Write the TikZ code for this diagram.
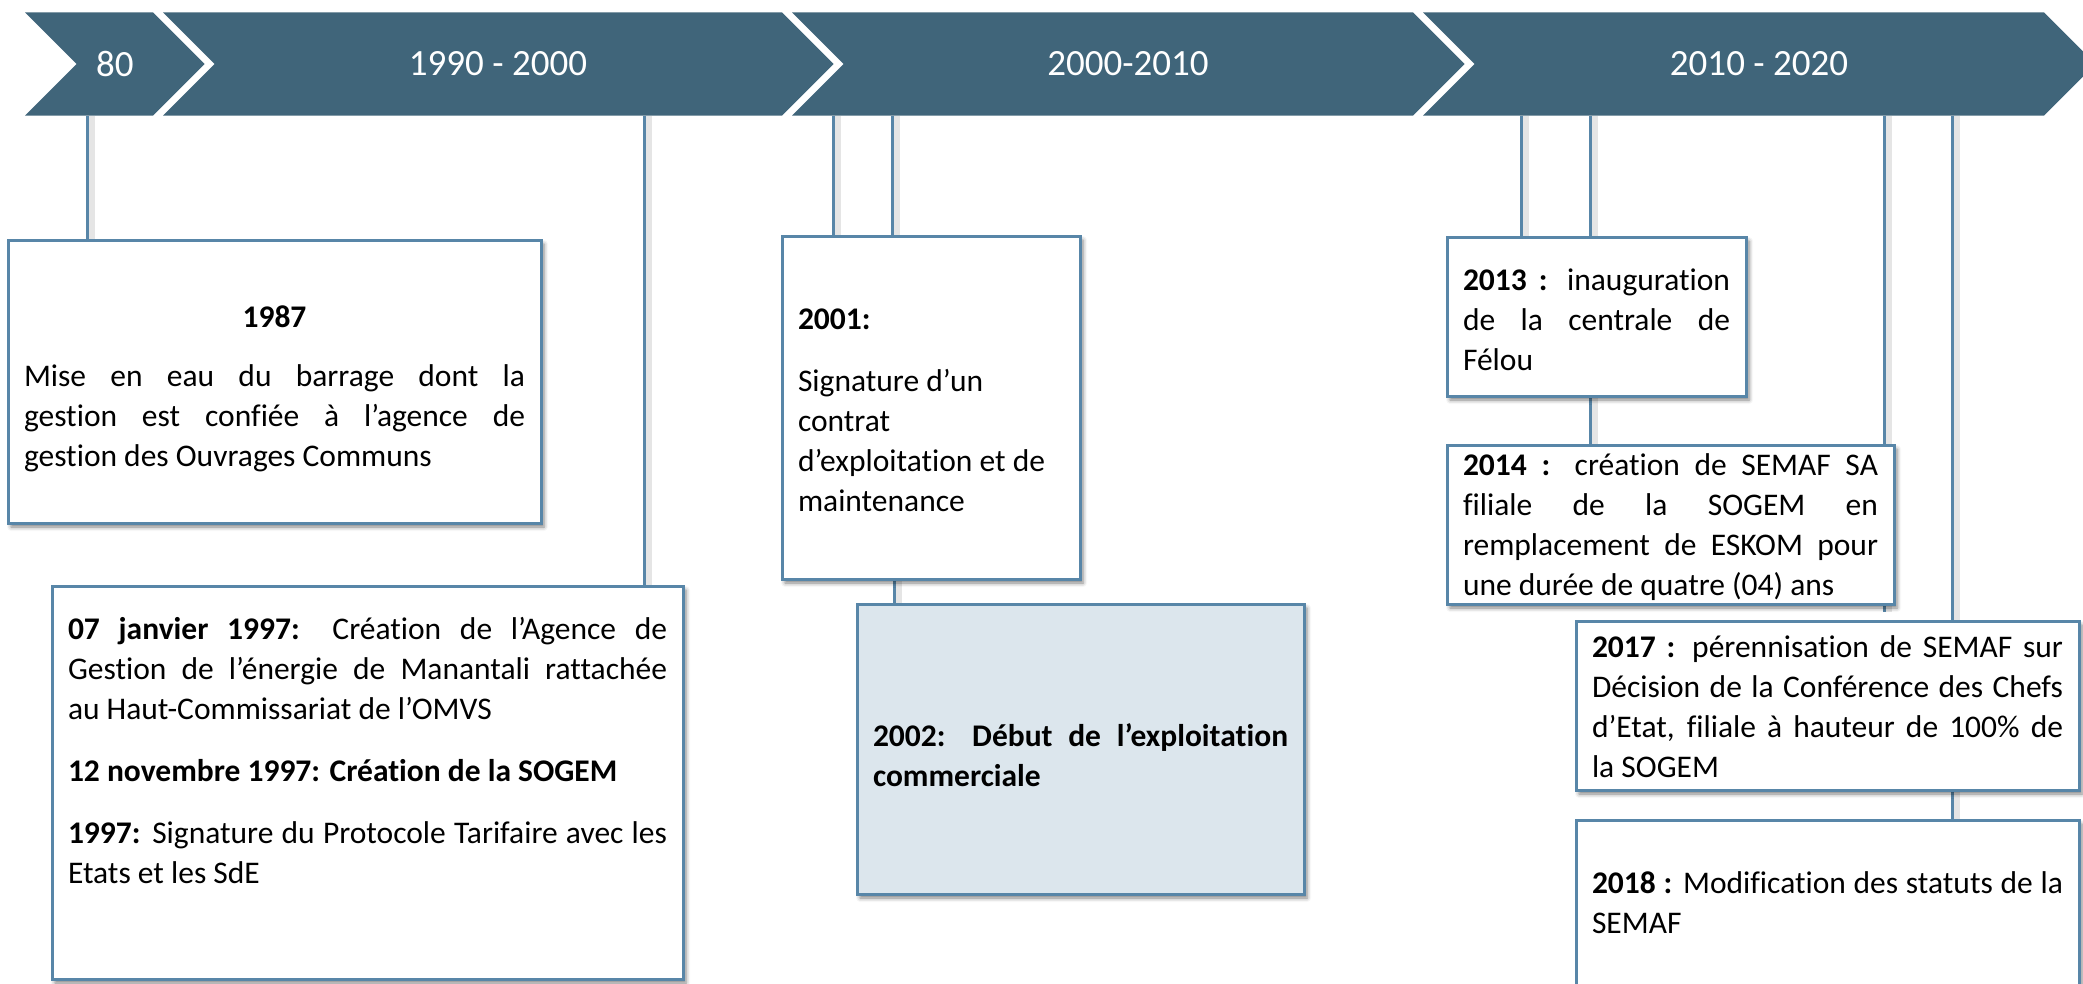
\documentclass[tikz,border=0pt]{standalone}
\usepackage{fontspec}
\setmainfont{Carlito}[Ligatures=NoCommon]
\usetikzlibrary{shadows.blur}
\definecolor{banner}{RGB}{64,101,122}
\definecolor{edgeblue}{RGB}{88,134,168}
\definecolor{paleblue}{RGB}{220,230,237}
\pgfdeclarelayer{bg}
\pgfsetlayers{bg,main}
\newcommand\evtext[4]{\parbox[t][#2][t]{#1}{\vspace*{#3}#4}}
\newcommand\pgap{\par\vspace{22pt}}
\tikzset{
  evbox/.style={draw=edgeblue, line width=3pt, fill=white, inner xsep=16pt, inner ysep=0pt,
    outer sep=0pt, anchor=north west,
    blur shadow={shadow xshift=3pt, shadow yshift=-4pt, shadow blur radius=4pt, shadow opacity=50},
    font=\fontsize{31.5}{40}\selectfont},
  conn/.style={draw=edgeblue, line width=3pt,
    preaction={draw=black, draw opacity=0.10, line width=6pt, transform canvas={xshift=4.5pt}}},
  chevlabel/.style={text=white, font=\fontsize{37}{44}\selectfont, minimum height=103.4pt,
    inner sep=0pt, outer sep=0pt},
  chevfill/.style={fill=banner}
}
\begin{document}
\begin{tikzpicture}[x=1pt,y=-1pt]
\useasboundingbox (0,0) rectangle (2083,983);
\clip (0,0) rectangle (2083,983);
% banner chevrons
\path[chevfill] (25,12.3) -- (153,12.3) -- (204.7,64) -- (153,115.7) -- (25,115.7) -- (76.7,64) -- cycle;
\path[chevfill] (163,12.3) -- (782,12.3) -- (833.7,64) -- (782,115.7) -- (163,115.7) -- (214.7,64) -- cycle;
\path[chevfill] (792,12.3) -- (1413,12.3) -- (1464.7,64) -- (1413,115.7) -- (792,115.7) -- (843.7,64) -- cycle;
\path[chevfill] (1423,12.3) -- (2044,12.3) -- (2095.7,64) -- (2044,115.7) -- (1423,115.7) -- (1474.7,64) -- cycle;
\node[chevlabel] (chev1) at (114.8,64) {80};
\node[chevlabel] (chev2) at (498,64) {1990 - 2000};
\node[chevlabel] (chev3) at (1128,64) {2000-2010};
\node[chevlabel] (chev4) at (1759,64) {2010 - 2020};

% event boxes
\node[evbox] (b1987) at (8,240) {\evtext{501pt}{283pt}{59pt}{%
  {\centering\bfseries\strut 1987\par}\vspace{19pt}%
  Mise en eau du barrage dont la\linebreak gestion est confiée à l’agence de\linebreak gestion des Ouvrages Communs}};

\node[evbox] (b1997) at (52,586) {\evtext{599pt}{393pt}{25pt}{%
  \strut\textbf{07 janvier 1997:} Création de l’Agence de\linebreak Gestion de l’énergie de Manantali rattachée\linebreak au Haut-Commissariat de l’OMVS\pgap
  \textbf{12 novembre 1997: Création de la SOGEM}\pgap
  \textbf{1997:} Signature du Protocole Tarifaire avec les\linebreak Etats et les SdE}};

\node[evbox] (b2001) at (782,236) {\evtext{266pt}{343pt}{65pt}{\raggedright
  \strut\textbf{2001:}\pgap
  Signature d’un\\ contrat\\ d’exploitation et de\\ maintenance}};

\node[evbox, fill=paleblue] (b2002) at (857,604) {\evtext{415pt}{290pt}{114pt}{%
  \bfseries\strut 2002: Début de l’exploitation\linebreak commerciale}};

\node[evbox] (b2013) at (1447,237) {\evtext{267pt}{159pt}{25pt}{%
  \strut\textbf{2013 :} inauguration\linebreak de la centrale de\linebreak Félou}};

\node[evbox] (b2014) at (1447,445) {\evtext{415pt}{159pt}{2pt}{%
  \strut\textbf{2014 :} création de SEMAF SA\linebreak filiale de la SOGEM en\linebreak remplacement de ESKOM pour\linebreak une durée de quatre (04) ans}};

\node[evbox] (b2017) at (1576,621) {\evtext{471pt}{169pt}{8pt}{%
  \strut\textbf{2017 :} pérennisation de SEMAF sur\linebreak Décision de la Conférence des Chefs\linebreak d’Etat, filiale à hauteur de 100\% de\linebreak la SOGEM}};

\node[evbox] (b2018) at (1576,820) {\evtext{471pt}{200pt}{45pt}{%
  \strut\textbf{2018 :} Modification des statuts de la\linebreak SEMAF}};

% connectors
\coordinate (k87) at (87,0);
\coordinate (k644) at (644,0);
\coordinate (k833) at (833,0);
\coordinate (k892) at (892,0);
\coordinate (k894) at (894,0);
\coordinate (k1521) at (1521,0);
\coordinate (k1590) at (1590,0);
\coordinate (k1884) at (1884,0);
\coordinate (k1884end) at (1884,612);
\coordinate (k1952) at (1952,0);
\begin{pgfonlayer}{bg}
\draw[conn] (chev1.south -| k87) -- (b1987.north -| k87);
\draw[conn] (chev2.south -| k644) -- (b1997.north -| k644);
\draw[conn] (chev3.south -| k833) -- (b2001.north -| k833);
\draw[conn] (chev3.south -| k892) -- (b2001.north -| k892);
\draw[conn] (b2001.south -| k894) -- (b2002.north -| k894);
\draw[conn] (chev4.south -| k1521) -- (b2013.north -| k1521);
\draw[conn] (chev4.south -| k1590) -- (b2013.north -| k1590);
\draw[conn] (b2013.south -| k1590) -- (b2014.north -| k1590);
\draw[conn] (chev4.south -| k1884) -- (k1884end);
\draw[conn] (chev4.south -| k1952) -- (b2017.north -| k1952);
\draw[conn] (b2017.south -| k1952) -- (b2018.north -| k1952);
\end{pgfonlayer}
\end{tikzpicture}
\end{document}
